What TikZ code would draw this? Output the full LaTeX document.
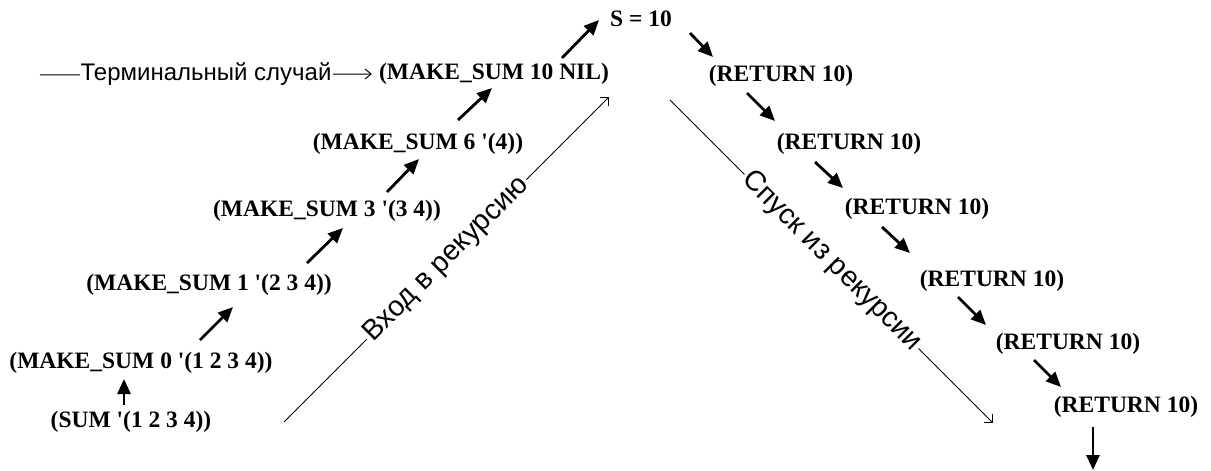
\documentclass[tikz,border=0pt]{standalone}
\usepackage{fontspec}
\setmainfont{Liberation Serif}
\newfontfamily\labelsans{Liberation Sans}
\usetikzlibrary{arrows.meta}
\begin{document}
\begin{tikzpicture}[x=1pt,y=-1pt,
  expr/.style={font=\fontsize{23.5}{28}\selectfont\bfseries, inner sep=0pt, anchor=center},
  tharrow/.style={line width=2.8pt, -{Triangle[length=15pt,width=13pt]}},
  thinline/.style={line width=1pt, -{Straight Barb[length=6pt,width=12pt]}},
  lbl/.style={font=\fontsize{28.5}{32}\selectfont\labelsans, fill=white, inner sep=2pt, sloped, midway},
  hlbl/.style={font=\fontsize{24}{28}\selectfont\labelsans, fill=white, inner sep=1pt}
]
\path[use as bounding box] (0,0) rectangle (1211,471);

% left chain
\node[expr] (SUM) at (131,422) {(SUM \textquotesingle(1 2 3 4))};
\node[expr] (M0) at (141,363) {(MAKE\_SUM 0 \textquotesingle(1 2 3 4))};
\node[expr] (M1) at (209,285) {(MAKE\_SUM 1 \textquotesingle(2 3 4))};
\node[expr] (M3) at (327,211) {(MAKE\_SUM 3 \textquotesingle(3 4))};
\node[expr] (M6) at (418,144) {(MAKE\_SUM 6 \textquotesingle(4))};
\node[expr] (M10) at (494,74) {(MAKE\_SUM 10 NIL)};
\node[expr] (S) at (641,18.5) {S = 10};

% right chain
\node[expr] (R1) at (781,76) {(RETURN 10)};
\node[expr] (R2) at (849,144) {(RETURN 10)};
\node[expr] (R3) at (917,209) {(RETURN 10)};
\node[expr] (R4) at (992,281) {(RETURN 10)};
\node[expr] (R5) at (1068,344) {(RETURN 10)};
\node[expr] (R6) at (1126,407) {(RETURN 10)};
\coordinate (out) at (1093,470);

% thick arrows
\draw[tharrow] ([shift={(-7,-17)}]SUM.center) -- ([shift={(-17,16)}]M0.center);
\draw[tharrow] ([shift={(59,-23)}]M0.center) -- ([shift={(24,22)}]M1.center);
\draw[tharrow] ([shift={(98,-22)}]M1.center) -- ([shift={(16,17)}]M3.center);
\draw[tharrow] ([shift={(60,-19)}]M3.center) -- ([shift={(1,15)}]M6.center);
\draw[tharrow] ([shift={(40,-24)}]M6.center) -- ([shift={(-2,14)}]M10.center);
\draw[tharrow] ([shift={(68,-16)}]M10.center) -- ([shift={(-42,1.5)}]S.center);
\draw[tharrow] ([shift={(49,14.5)}]S.center) -- ([shift={(-68,-19)}]R1.center);
\draw[tharrow] ([shift={(-34,17)}]R1.center) -- ([shift={(-74,-23)}]R2.center);
\draw[tharrow] ([shift={(-34,18)}]R2.center) -- ([shift={(-74,-21)}]R3.center);
\draw[tharrow] ([shift={(-35,18)}]R3.center) -- ([shift={(-82,-28)}]R4.center);
\draw[tharrow] ([shift={(-34,16)}]R4.center) -- ([shift={(-82,-19)}]R5.center);
\draw[tharrow] ([shift={(-34,16)}]R5.center) -- ([shift={(-65,-20)}]R6.center);
\draw[tharrow] ([shift={(-33,20)}]R6.center) -- (out);

% thin labelled lines
\coordinate (inA) at (284,422);
\coordinate (inB) at (609,97);
\draw[thinline] (inA) -- node[lbl] {Вход в рекурсию} (inB);
\coordinate (outA) at (670,100);
\coordinate (outB) at (993,423);
\draw[thinline] (outA) -- node[lbl] {Спуск из рекурсии} (outB);
\coordinate (term) at (40,75);
\draw[line width=1pt, -{Straight Barb[length=6pt,width=10pt]}, shorten >=7pt] (term) -- node[hlbl, pos=0.49] {Терминальный случай} (M10.west);
\end{tikzpicture}
\end{document}
